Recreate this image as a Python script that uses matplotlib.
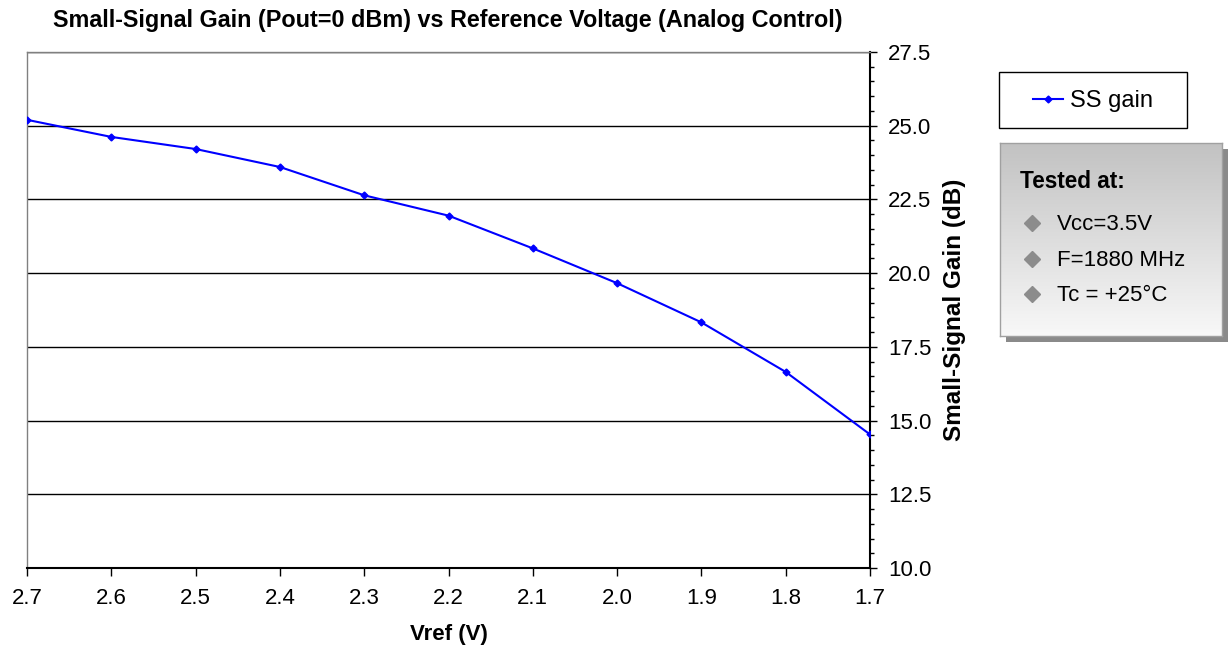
import numpy as np
import matplotlib
matplotlib.use("Agg")
import matplotlib.pyplot as plt
from matplotlib.patches import Rectangle
from matplotlib.lines import Line2D
from matplotlib.colors import LinearSegmentedColormap
from matplotlib.ticker import MultipleLocator, FormatStrFormatter

# data
vref = [2.7, 2.6, 2.5, 2.4, 2.3, 2.2, 2.1, 2.0, 1.9, 1.8, 1.7]
gain = [25.2, 24.62, 24.21, 23.6, 22.64, 21.95, 20.84, 19.66, 18.33, 16.65, 14.53]
xticks = [2.7, 2.6, 2.5, 2.4, 2.3, 2.2, 2.1, 2.0, 1.9, 1.8, 1.7]
yticks = [10.0, 12.5, 15.0, 17.5, 20.0, 22.5, 25.0, 27.5]
notes = ["Vcc=3.5V", "F=1880 MHz", "Tc = +25°C"]

W, H = 1231, 655
plt.rcParams['font.family'] = ['Liberation Sans', 'DejaVu Sans']

fig = plt.figure(figsize=(W / 100, H / 100), dpi=100)
fig.patch.set_facecolor('white')

def fx(px):
    return px / W

def fy(py):
    return 1 - py / H

# main plot
ax = fig.add_axes([fx(27), fy(568), fx(870 - 27), (568 - 52) / H])
ax.plot(vref, gain, color='#0000ff', lw=1.5, marker='D', ms=3.5, label='SS gain', zorder=3)
ax.set_xlim(2.7, 1.7)
ax.set_ylim(10, 27.5)
ax.set_xticks(xticks)
ax.set_yticks(yticks)
ax.xaxis.set_major_formatter(FormatStrFormatter('%.1f'))
ax.yaxis.set_major_formatter(FormatStrFormatter('%.1f'))
ax.yaxis.set_minor_locator(MultipleLocator(0.5))
ax.yaxis.tick_right()
ax.yaxis.set_label_position('right')
ax.tick_params(axis='y', which='major', direction='out', length=5, width=1, labelsize=16, pad=8, color='black')
ax.tick_params(axis='y', which='minor', direction='out', length=3, width=1, color='black')
ax.tick_params(axis='x', which='major', direction='out', length=5.5, width=1, labelsize=16, pad=9)
ax.grid(axis='y', which='major', color='black', lw=1)
ax.set_axisbelow(True)
for s in ['top', 'left']:
    ax.spines[s].set_color('#808080')
    ax.spines[s].set_linewidth(1)
for s in ['right', 'bottom']:
    ax.spines[s].set_color('black')
    ax.spines[s].set_linewidth(1.5)

ax.set_xlabel('Vref (V)', fontsize=16, fontweight='bold', labelpad=11)
ax.set_ylabel('Small-Signal Gain (dB)', fontsize=17.5, fontweight='bold', labelpad=8)
fig.text(fx(448), fy(27), 'Small-Signal Gain (Pout=0 dBm) vs Reference Voltage (Analog Control)',
         ha='center', va='baseline', fontsize=16.8, fontweight='bold')

# legend box
fig.add_artist(Rectangle((fx(999), fy(128)), fx(188), 56 / H, transform=fig.transFigure,
                         facecolor='white', edgecolor='black', lw=1, zorder=1))
h = Line2D([], [], color='#0000ff', lw=1.5, marker='D', ms=3.5)
leg = fig.legend([h], ['SS gain'], loc='center', bbox_to_anchor=(fx(1093), fy(101)), frameon=False,
                 fontsize=17, handlelength=1.25, handletextpad=0.3)
leg.set_zorder(2)

# "tested at" box with shadow and gradient
bx0, by0, bx1, by1 = 1000, 143, 1222, 336
fig.add_artist(Rectangle((fx(bx0 + 6), fy(by1 + 6)), fx(bx1 - bx0), (by1 - by0) / H,
                         transform=fig.transFigure, facecolor='#8a8a8a', edgecolor='none', zorder=-1))
bax = fig.add_axes([fx(bx0), fy(by1), fx(bx1 - bx0), (by1 - by0) / H])
bax.set_zorder(0.5)
grad = np.linspace(0, 1, 256).reshape(-1, 1)
bax.imshow(grad, aspect='auto', extent=[0, 1, 1, 0],
           cmap=LinearSegmentedColormap.from_list('g', ['#c2c2c2', '#f8f8f8']))
bax.set_xticks([])
bax.set_yticks([])
for s in bax.spines.values():
    s.set_color('#a0a0a0')
    s.set_linewidth(1)

fig.text(fx(1020), fy(188), 'Tested at:', ha='left', va='baseline', fontsize=16.3,
         fontweight='bold', zorder=5)
note_base = [230, 266, 301]
for txt, yb in zip(notes, note_base):
    fig.text(fx(1057), fy(yb), txt, ha='left', va='baseline', fontsize=16, zorder=5)
    fig.add_artist(Line2D([fx(1032)], [fy(yb - 7)], transform=fig.transFigure, marker='D',
                          ms=8.5, color='#8c8c8c', ls='none', zorder=5))

fig.savefig('out.png', dpi=100, facecolor='white')
